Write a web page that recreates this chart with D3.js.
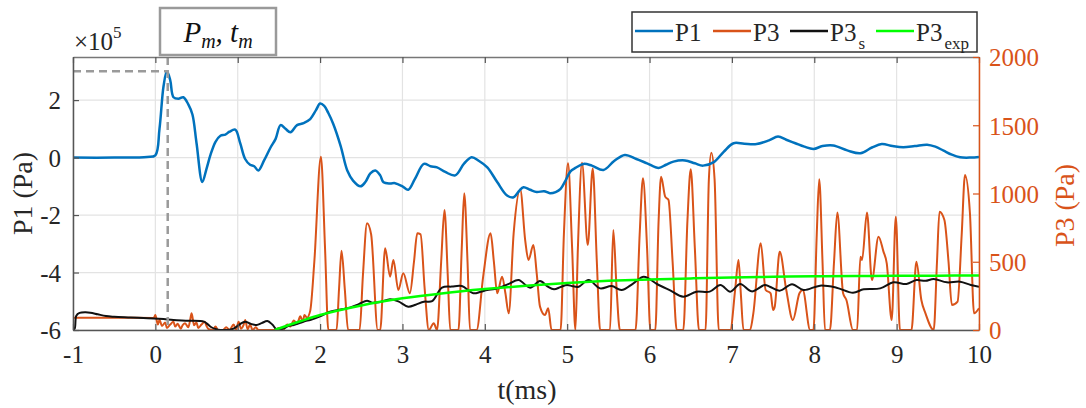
<!DOCTYPE html>
<html><head><meta charset="utf-8">
<script src="https://cdn.jsdelivr.net/npm/d3@7"></script>
<style>
html,body{margin:0;padding:0;background:#fff;}
svg{display:block;}
svg text{font-family:"Times New Roman","Liberation Serif",Times,serif !important;}
</style></head>
<body><svg id="c" width="1086" height="408"></svg>
<script>
// ---------------- DATA ----------------
const xTicks = [-1,0,1,2,3,4,5,6,7,8,9,10];
const yLeftTicks = [-6,-4,-2,0,2];
const yRightTicks = [0,500,1000,1500,2000];
const seriesNames = ["P1","P3","P3s","P3exp"];

// P1 in units of 1e5 Pa
const p1Time = [-1,-0.5,-0.1,0.0,0.05,0.1,0.14,0.18,0.22,0.28,0.34,0.4,0.45,0.5,0.57,0.62,0.67,0.73,0.79,0.85,0.9,0.97,1.03,1.09,1.15,1.2,1.25,1.32,1.4,1.46,1.52,1.58,1.64,1.72,1.8,1.88,1.95,2.0,2.05,2.1,2.16,2.25,2.33,2.4,2.49,2.55,2.61,2.67,2.73,2.77,2.85,2.91,3.0,3.07,3.15,3.26,3.34,3.42,3.52,3.64,3.75,3.84,3.93,4.03,4.15,4.27,4.35,4.42,4.47,4.55,4.63,4.72,4.79,4.86,4.92,4.98,5.04,5.1,5.2,5.3,5.44,5.57,5.7,5.84,5.97,6.11,6.2,6.29,6.43,6.55,6.65,6.78,6.9,7.02,7.15,7.3,7.45,7.56,7.66,7.77,7.88,7.99,8.1,8.23,8.4,8.56,8.7,8.82,8.95,9.08,9.22,9.37,9.47,9.57,9.67,9.77,9.9,10.0];
const p1Value = [0,0,0.02,0.08,1.0,2.5,3.0,2.7,2.1,2.05,2.1,1.85,1.5,0.5,-0.85,-0.4,0.1,0.55,0.76,0.8,0.9,0.97,0.5,-0.05,-0.25,-0.3,-0.45,-0.1,0.36,0.65,1.13,1.0,0.88,1.13,1.2,1.34,1.65,1.88,1.8,1.55,1.17,0.4,-0.45,-0.8,-1.0,-0.85,-0.55,-0.45,-0.62,-0.86,-0.9,-0.89,-1.0,-1.12,-0.75,-0.22,-0.3,-0.34,-0.5,-0.62,-0.2,0.01,-0.12,-0.34,-0.85,-1.32,-1.38,-1.15,-1.03,-1.12,-1.2,-1.17,-1.24,-1.2,-1.09,-0.8,-0.48,-0.36,-0.22,-0.28,-0.43,-0.12,0.09,-0.05,-0.2,-0.36,-0.25,-0.14,-0.1,-0.2,-0.28,-0.16,0.2,0.5,0.48,0.47,0.6,0.73,0.62,0.5,0.38,0.3,0.4,0.42,0.25,0.15,0.35,0.47,0.4,0.36,0.4,0.45,0.38,0.24,0.1,0.01,0.0,0.02];

// P3 raw (Pa)
const p3Time = [-1,-0.5,-0.02,0.0,0.03,0.05,0.08,0.12,0.14,0.18,0.22,0.24,0.27,0.31,0.33,0.36,0.4,0.42,0.44,0.47,0.5,0.52,0.56,0.6,0.62,0.65,0.7,0.73,0.76,0.82,0.86,0.9,0.95,0.98,1.01,1.04,1.07,1.09,1.12,1.15,1.18,1.22,1.25,1.45,1.5,1.55,1.6,1.64,1.68,1.72,1.76,1.79,1.81,1.84,1.88,1.93,2.01,2.06,2.10,2.20,2.23,2.26,2.30,2.34,2.48,2.52,2.57,2.62,2.70,2.73,2.79,2.85,2.89,2.95,3.01,3.09,3.14,3.18,3.22,3.27,3.32,3.38,3.42,3.47,3.51,3.55,3.58,3.68,3.72,3.75,3.79,3.82,3.90,3.98,4.07,4.11,4.15,4.21,4.25,4.29,4.35,4.43,4.49,4.53,4.59,4.63,4.67,4.73,4.77,4.81,4.92,4.96,5.01,5.06,5.10,5.13,5.18,5.25,5.31,5.36,5.40,5.52,5.56,5.60,5.64,5.83,5.88,5.92,5.97,6.01,6.07,6.11,6.14,6.19,6.23,6.28,6.33,6.41,6.46,6.50,6.55,6.60,6.68,6.72,6.75,6.79,6.84,6.98,7.04,7.08,7.11,7.14,7.22,7.26,7.35,7.41,7.47,7.50,7.52,7.58,7.66,7.74,7.82,7.86,7.95,7.99,8.03,8.06,8.10,8.13,8.19,8.24,8.28,8.35,8.39,8.47,8.52,8.56,8.58,8.64,8.70,8.78,8.84,8.88,8.94,8.99,9.04,9.18,9.24,9.30,9.35,9.45,9.49,9.52,9.58,9.63,9.67,9.74,9.79,9.83,9.89,9.94,10.0];
const p3Value = [90,90,88,110,40,75,30,55,15,40,60,25,45,10,35,50,20,65,122,35,55,15,40,60,30,5,0,25,0,0,20,0,40,0,60,10,35,73,5,40,0,20,0,0,15,0,40,25,70,45,100,60,110,90,140,500,1270,600,0,0,300,581,300,0,0,400,782,700,0,0,598,391,513,293,415,269,500,708,700,300,0,49,0,500,879,400,0,0,600,1001,500,0,0,391,708,500,269,391,269,122,708,1030,659,513,623,415,171,110,159,0,0,700,1221,600,0,600,1226,623,1184,500,0,0,733,300,0,0,700,1111,600,0,0,800,1123,977,953,500,0,0,800,1177,600,0,0,1100,1299,1100,0,0,300,513,250,0,0,122,635,293,269,147,171,574,293,73,269,293,0,0,700,1104,500,0,0,500,860,269,220,0,0,537,513,860,366,684,574,488,73,830,0,0,500,220,122,0,500,867,806,500,183,208,700,1135,855,122,159];

// P3 smoothed (Pa)
const p3sTime = [-1,-0.98,-0.96,-0.92,-0.85,-0.79,-0.7,-0.6,-0.5,-0.3,-0.02,0.1,0.22,0.4,0.59,0.63,0.67,0.74,0.79,0.9,0.95,1.02,1.09,1.16,1.23,1.29,1.36,1.42,1.48,1.55,1.62,1.68,1.75,1.82,1.88,2.0,2.12,2.25,2.37,2.47,2.57,2.63,2.73,2.85,2.95,3.07,3.16,3.26,3.36,3.48,3.6,3.72,3.86,3.95,4.03,4.12,4.21,4.3,4.41,4.55,4.67,4.76,4.84,4.92,5.0,5.07,5.14,5.26,5.4,5.54,5.66,5.8,5.93,6.09,6.25,6.41,6.57,6.73,6.86,6.98,7.1,7.24,7.4,7.46,7.58,7.73,7.87,8.07,8.27,8.47,8.6,8.8,8.96,9.12,9.24,9.35,9.45,9.61,9.77,9.9,10.0];
const p3sValue = [5,10,105,125,130,127,115,102,97,92,85,80,73,68,61,45,24,5,0,2,10,40,61,45,37,50,66,40,0,10,30,37,50,65,73,100,134,150,166,190,215,200,205,225,210,171,185,207,211,310,318,322,269,280,293,300,317,340,366,310,359,320,298,315,330,320,317,366,305,322,293,340,391,337,290,244,281,281,330,281,337,283,330,317,288,335,293,325,310,273,298,305,349,337,366,360,374,349,354,330,317];

// P3 exponential fit (Pa)
const p3expTime = [1.45,1.5,1.75,2.0,2.5,3.0,3.5,4.0,4.5,5.0,5.5,6.0,6.5,7.0,7.5,8.0,8.5,9.0,9.5,10.0];
const p3expValue = [0,11,62,110,180,232,270,300,325,345,360,370,378,385,390,393,395,397,398,399];

const peakT = 0.15, peakP = 3.0;

// ---------------- LAYOUT ----------------
const L = 73, R = 979, T = 57, B = 330;
const FONT = '"Times New Roman","Liberation Serif",Times,serif';
const blue = "#0072BD", orange = "#D95319", green = "#00FF00";
const svg = d3.select("#c");
const x = d3.scaleLinear().domain([-1,10]).range([L,R]);
const yL = d3.scaleLinear().domain([-6,3.5]).range([B,T]);
const yR = d3.scaleLinear().domain([0,2000]).range([B,T]);
const fmt = d => String(d);

// grid
const grid = svg.append("g");
grid.selectAll(".gx").data(xTicks).join("line")
  .attr("x1",d=>x(d)).attr("x2",d=>x(d)).attr("y1",T).attr("y2",B)
  .attr("stroke","#e3e3e3").attr("stroke-width",1.2);
grid.selectAll(".gy").data(yLeftTicks).join("line")
  .attr("x1",L).attr("x2",R).attr("y1",d=>yL(d)).attr("y2",d=>yL(d))
  .attr("stroke","#e3e3e3").attr("stroke-width",1.2);

// clip
svg.append("clipPath").attr("id","clip").append("rect")
  .attr("x",L).attr("y",T).attr("width",R-L).attr("height",B-T);
const plot = svg.append("g").attr("clip-path","url(#clip)");

const zip = (ts,vs)=>ts.map((t,i)=>[t,vs[i]]);
const lineL = d3.line().x(d=>x(d[0])).y(d=>yL(d[1])).curve(d3.curveCatmullRom);
const lineR = d3.line().x(d=>x(d[0])).y(d=>yR(d[1])).curve(d3.curveMonotoneX);
const lineRs = d3.line().x(d=>x(d[0])).y(d=>yR(d[1])).curve(d3.curveCatmullRom);

plot.append("path").attr("d",lineR(zip(p3Time,p3Value)))
  .attr("fill","none").attr("stroke",orange).attr("stroke-width",2);
plot.append("path").attr("d",lineRs(zip(p3sTime,p3sValue)))
  .attr("fill","none").attr("stroke","#111").attr("stroke-width",2);
plot.append("path").attr("d",lineRs(zip(p3expTime,p3expValue)))
  .attr("fill","none").attr("stroke",green).attr("stroke-width",2.5);
plot.append("path").attr("d",lineL(zip(p1Time,p1Value)))
  .attr("fill","none").attr("stroke",blue).attr("stroke-width",2.5);

// dashed peak marker
svg.append("line").attr("x1",L).attr("x2",x(peakT)).attr("y1",yL(peakP)).attr("y2",yL(peakP))
  .attr("stroke","#9a9a9a").attr("stroke-width",2.5).attr("stroke-dasharray","8,5");
svg.append("line").attr("x1",x(peakT)).attr("x2",x(peakT)).attr("y1",T).attr("y2",B)
  .attr("stroke","#9a9a9a").attr("stroke-width",2.5).attr("stroke-dasharray","8,5");

// axes
const fs = "25px";
const gx = svg.append("g").attr("transform",`translate(0,${B})`)
  .call(d3.axisBottom(x).tickValues(xTicks).tickSizeInner(-6).tickSizeOuter(0).tickPadding(10).tickFormat(fmt));
const gxt = svg.append("g").attr("transform",`translate(0,${T})`)
  .call(d3.axisTop(x).tickValues(xTicks).tickSizeInner(-6).tickSizeOuter(0).tickFormat(""));
const gl = svg.append("g").attr("transform",`translate(${L},0)`)
  .call(d3.axisLeft(yL).tickValues(yLeftTicks).tickSizeInner(-6).tickSizeOuter(0).tickPadding(12).tickFormat(fmt));
const gr = svg.append("g").attr("transform",`translate(${R},0)`)
  .call(d3.axisRight(yR).tickValues(yRightTicks).tickSizeInner(-6).tickSizeOuter(0).tickPadding(10).tickFormat(fmt));
[gx,gxt,gl,gr].forEach(g=>g.attr("font-family",FONT));
[gx,gxt,gl].forEach(g=>{
  g.select(".domain").attr("stroke","#555").attr("stroke-width",1.5);
  g.selectAll(".tick line").attr("stroke","#555").attr("stroke-width",1.2);
  g.selectAll(".tick text").attr("fill","#262626").style("font-size",fs);
});
gxt.select(".domain").attr("stroke","#777");
gx.selectAll(".tick text").attr("dy","0.9em");
gl.selectAll(".tick text").attr("dy","0.35em");
gr.select(".domain").attr("stroke",orange).attr("stroke-width",1.5);
gr.selectAll(".tick line").attr("stroke",orange).attr("stroke-width",1.2);
gr.selectAll(".tick text").attr("fill",orange).style("font-size",fs).attr("dy","0.35em");

// axis labels
svg.append("text").attr("x",527).attr("y",399).attr("text-anchor","middle")
  .style("font-size","28px").attr("fill","#262626").text("t(ms)");
svg.append("text").attr("transform",`translate(32,${(T+B)/2}) rotate(-90)`).attr("text-anchor","middle")
  .style("font-size","28px").attr("fill","#262626").text("P1 (Pa)");
svg.append("text").attr("transform",`translate(1074,${(T+B)/2+12}) rotate(-90)`).attr("text-anchor","middle")
  .style("font-size","28px").attr("fill",orange).text("P3 (Pa)");

// exponent
const ex = svg.append("text").attr("x",74).attr("y",50).style("font-size","25px").attr("fill","#262626");
ex.append("tspan").text("\u00d710");
ex.append("tspan").attr("dy",-12).style("font-size","17px").text("5");

// annotation box
svg.append("rect").attr("x",160).attr("y",8).attr("width",116).attr("height",47)
  .attr("fill","#fff").attr("stroke","#9a9a9a").attr("stroke-width",2.5);
const an = svg.append("text").attr("x",218).attr("y",42).attr("text-anchor","middle")
  .style("font-size","29px").style("font-style","italic").attr("fill","#111");
an.append("tspan").text("P");
an.append("tspan").attr("dy",6).style("font-size","20px").text("m");
an.append("tspan").attr("dy",-6).text(", t");
an.append("tspan").attr("dy",6).style("font-size","20px").text("m");

// legend
const lg = svg.append("g");
lg.append("rect").attr("x",632).attr("y",12).attr("width",345).attr("height",40)
  .attr("fill","#fff").attr("stroke","#333").attr("stroke-width",1.5);
const legItems = [
  {name:seriesNames[0], color:blue, x0:635, main:"P1", sub:""},
  {name:seriesNames[1], color:orange, x0:713, main:"P3", sub:""},
  {name:seriesNames[2], color:"#111", x0:790, main:"P3", sub:"s"},
  {name:seriesNames[3], color:green, x0:876, main:"P3", sub:"exp"}
];
legItems.forEach(it=>{
  lg.append("line").attr("x1",it.x0).attr("x2",it.x0+38).attr("y1",31).attr("y2",31)
    .attr("stroke",it.color).attr("stroke-width",2.5);
  const t = lg.append("text").attr("x",it.x0+40).attr("y",41).style("font-size","25px").attr("fill","#262626");
  t.append("tspan").text(it.main);
  if(it.sub){ t.append("tspan").attr("dx",2).attr("dy",8).style("font-size","17px").text(it.sub); }
});
</script></body></html>
